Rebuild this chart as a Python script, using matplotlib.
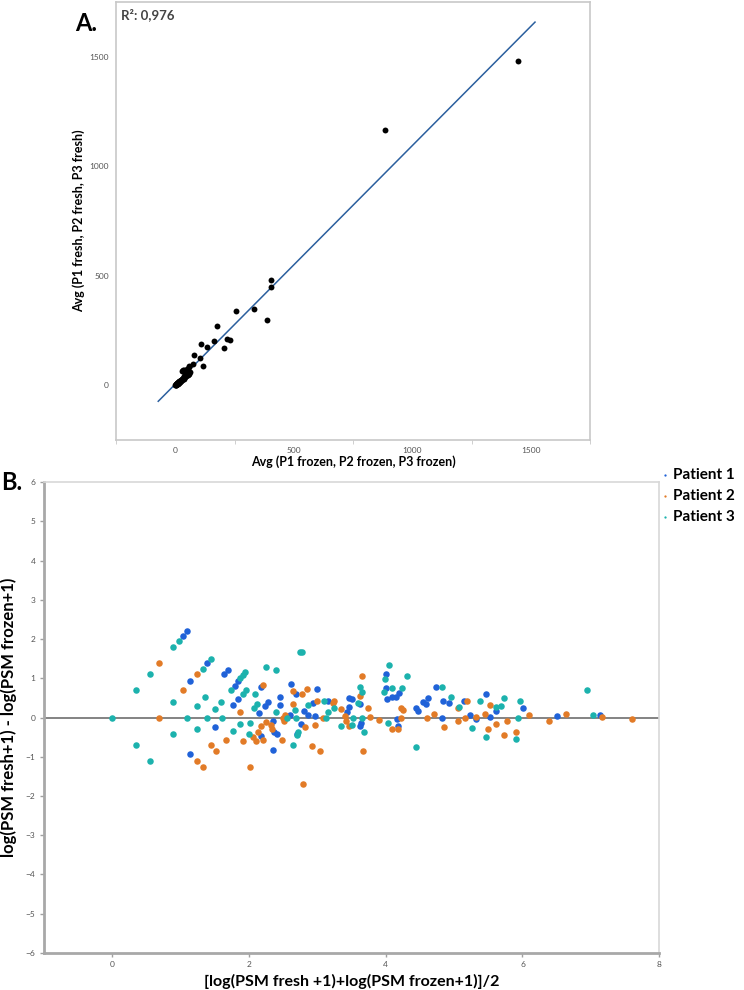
import numpy as np
import matplotlib
matplotlib.use("Agg")
import matplotlib.pyplot as plt
from matplotlib.ticker import MultipleLocator

plt.rcParams['font.family'] = ['Lato', 'DejaVu Sans']

# ---- panel A data : average PSM frozen vs fresh ----
frozen_avg = [1446, 884, 403, 405, 385, 334, 256, 176, 165, 218, 232, 205, 110, 132,
              79, 104, 116, 73, 56, 34, 27, 38, 48, 59,
              0, 1, 2, 3, 4, 5, 6, 7, 8, 10, 12, 14, 15, 18, 20, 22, 24, 25, 28,
              30, 32, 33, 35, 38, 40, 42, 44, 45, 48, 50, 52, 55, 58, 60]
fresh_avg = [1480, 1164, 482, 450, 296, 346, 340, 269, 204, 210, 207, 170, 190, 175,
             140, 122, 87, 97, 84, 71, 66, 71, 76, 87,
             0, 2, 3, 1, 6, 4, 8, 5, 10, 7, 15, 18, 12, 20, 16, 25, 20, 22, 30,
             26, 28, 35, 30, 40, 36, 45, 46, 40, 50, 45, 55, 48, 52, 62]
fit_slope = 1.089
fit_intercept = 5.0
fit_range = [-72, 1518]
r2_text = "R²: 0,976"

# ---- panel B data : MA-style plot per patient ----
p1 = [(1.04, 2.07), (1.10, 2.20), (1.14, 0.92), (1.14, -0.93), (1.38, 1.38), (1.50, -0.23),
      (1.64, 1.10), (1.70, 1.21), (1.77, 0.33), (1.79, 0.81), (1.84, 0.92), (1.84, 0.47),
      (2.14, 0.11), (2.17, -0.47), (2.17, 0.77), (2.24, 0.30), (2.28, 0.40), (2.35, -0.10),
      (2.37, -0.36), (2.41, -0.43), (2.35, -0.82), (2.45, 0.51), (2.46, 0.33), (2.61, 0.85),
      (2.69, 0.59), (2.86, 0.06), (2.60, 0.06), (2.80, 0.17), (2.76, -0.17), (2.70, -0.42),
      (3.00, 0.73), (2.94, 0.36), (3.15, 0.43), (2.96, 0.05), (3.44, 0.14), (3.47, 0.26),
      (3.47, 0.50), (3.50, 0.47), (3.63, -0.21), (3.63, 0.34), (3.64, -0.13), (4.00, 1.10),
      (4.00, 0.75), (4.02, 0.48), (4.09, 0.51), (4.15, 0.53), (4.20, 0.62), (4.18, -0.21),
      (4.17, -0.04), (4.44, 0.24), (4.47, 0.17), (4.55, 0.40), (4.59, 0.35), (4.62, 0.50),
      (4.73, 0.77), (4.82, 0.00), (4.84, 0.41), (4.92, 0.37), (5.15, 0.43), (5.24, 0.07),
      (5.32, -0.03), (5.47, 0.61), (5.52, 0.02), (5.61, 0.17), (6.01, 0.23), (6.50, 0.04),
      (7.13, 0.06)]
p2 = [(0.69, 1.38), (0.69, 0.00), (1.04, 0.69), (1.24, 1.10), (1.24, -1.10), (1.32, -1.27),
      (1.44, -0.70), (1.52, -0.86), (1.66, -0.57), (1.87, 0.15), (1.91, -0.59), (2.01, -1.26),
      (2.06, -0.50), (2.10, -0.61), (2.13, -0.37), (2.18, -0.22), (2.21, -0.58), (2.21, 0.84),
      (2.25, -0.12), (2.32, -0.20), (2.33, -0.29), (2.48, -0.58), (2.50, 0.00), (2.52, 0.07),
      (2.51, -0.08), (2.64, 0.68), (2.78, 0.60), (2.85, 0.73), (2.65, 0.35), (2.79, -1.70),
      (2.92, -0.72), (3.04, -0.86), (2.82, -0.23), (2.97, -0.20), (3.00, 0.43), (3.08, 0.00),
      (3.23, 0.36), (3.24, 0.42), (3.35, 0.21), (3.40, 0.04), (3.42, -0.08), (3.47, -0.22),
      (3.63, 0.54), (3.65, 1.07), (3.67, -0.86), (3.74, 0.25), (3.77, 0.02), (3.90, -0.06),
      (4.09, -0.29), (4.18, -0.29), (4.22, -0.02), (4.22, 0.24), (4.26, 0.18), (4.61, -0.02),
      (4.70, 0.09), (4.85, -0.23), (5.05, -0.09), (5.06, 0.24), (5.19, 0.41), (5.16, -0.01),
      (5.32, 0.02), (5.45, 0.08), (5.53, 0.33), (5.50, -0.29), (5.62, -0.16), (5.73, -0.45),
      (5.78, -0.10), (5.91, -0.36), (6.09, 0.06), (6.39, -0.09), (6.63, 0.08), (7.16, 0.01),
      (7.60, -0.05)]
p3 = [(0.00, 0.00), (0.35, 0.69), (0.35, -0.70), (0.55, 1.10), (0.55, -1.10), (0.89, 1.79),
      (0.97, 1.94), (0.89, 0.40), (0.89, -0.41), (1.10, 0.00), (1.24, 0.29), (1.24, -0.29),
      (1.35, 0.51), (1.32, 1.24), (1.44, 1.50), (1.38, 0.00), (1.50, 0.21), (1.59, 0.40),
      (1.61, 0.00), (1.73, 0.69), (1.87, 1.01), (1.91, 1.09), (1.94, 1.17), (1.91, 0.59),
      (1.96, 0.69), (1.77, -0.34), (1.87, -0.16), (2.00, -0.41), (2.01, -0.14), (2.09, 0.60),
      (2.08, 0.25), (2.12, 0.35), (2.25, 1.28), (2.39, 1.20), (2.39, 0.14), (2.55, 0.00),
      (2.67, 0.20), (2.69, 0.00), (2.64, -0.70), (2.75, 1.66), (2.78, 1.66), (2.70, -0.45),
      (2.72, -0.36), (2.86, 0.33), (3.09, 0.41), (3.24, 0.23), (3.15, 0.14), (3.13, -0.01),
      (3.35, -0.21), (3.59, 0.36), (3.63, 0.77), (3.65, 0.66), (3.52, 0.00), (3.51, -0.20),
      (3.65, 0.00), (3.68, -0.36), (3.98, 0.65), (3.99, 0.97), (4.05, 1.33), (4.09, 0.76),
      (4.24, 0.76), (4.31, 1.05), (4.03, -0.13), (4.44, -0.75), (4.83, 0.77), (4.96, 0.53),
      (5.07, 0.28), (5.26, -0.28), (5.38, 0.41), (5.46, -0.50), (5.61, 0.27), (5.68, 0.30),
      (5.73, 0.49), (5.91, -0.54), (5.93, 0.00), (5.96, 0.42), (6.95, 0.70), (7.03, 0.06)]
patients = ["Patient 1", "Patient 2", "Patient 3"]
colors = ["#2062d8", "#e27b27", "#1cb2ad"]

frame_col = "#c8c8c8"
tick_col = "#555555"

fig = plt.figure(figsize=(7.44, 9.9), dpi=100)

# ---------------- panel A ----------------
axA = fig.add_axes([0.156, 0.5556, 0.637, 0.4424])
xs = np.array(fit_range)
axA.plot(xs, fit_slope * xs + fit_intercept, color="#2b5f9e", lw=1.1, zorder=1)
axA.scatter(frozen_avg, fresh_avg, s=18, color="black", zorder=2, linewidths=0)
axA.set_xlim(-250, 1750)
axA.set_ylim(-250, 1750)
axA.xaxis.set_major_locator(MultipleLocator(500))
axA.yaxis.set_major_locator(MultipleLocator(500))
axA.xaxis.set_minor_locator(MultipleLocator(500, offset=250))
axA.tick_params(which="major", length=0, labelsize=6, labelcolor=tick_col, pad=5)
axA.tick_params(axis="x", which="minor", length=3, color=frame_col)
axA.tick_params(axis="y", which="minor", length=0)
for sp in axA.spines.values():
    sp.set_color(frame_col)
    sp.set_linewidth(1.2)
axA.set_xlabel("Avg (P1 frozen, P2 frozen, P3 frozen)", fontsize=9, fontweight="bold", labelpad=1)
axA.set_ylabel("Avg (P1 fresh, P2 fresh, P3 fresh)", fontsize=9, fontweight="bold", labelpad=3)
axA.text(0.01, 0.985, r2_text, transform=axA.transAxes, fontsize=9.5, fontweight="bold",
         color="#444444", va="top", ha="left")
fig.text(0.101, 0.988, "A.", fontsize=17, fontweight="bold", va="top", ha="left")

# ---------------- panel B ----------------
axB = fig.add_axes([0.059, 0.0374, 0.827, 0.4757])
axB.axhline(0, color="#7a7a7a", lw=1.3, zorder=1)
for name, pts, c in zip(patients, [p1, p2, p3], colors):
    arr = np.array(pts)
    axB.scatter(arr[:, 0], arr[:, 1], s=22, color=c, linewidths=0, zorder=2, label=name)
axB.set_xlim(-1, 8)
axB.set_ylim(-6, 6)
axB.xaxis.set_major_locator(MultipleLocator(2))
axB.yaxis.set_major_locator(MultipleLocator(1))
axB.tick_params(length=3, width=1, color="#a0a0a0", labelsize=6, labelcolor=tick_col, pad=3)
for side in ["top", "right"]:
    axB.spines[side].set_color("#d8d8d8")
    axB.spines[side].set_linewidth(1.2)
for side in ["left", "bottom"]:
    axB.spines[side].set_color("#a8a8a8")
    axB.spines[side].set_linewidth(2)
axB.set_xlabel("[log(PSM fresh +1)+log(PSM frozen+1)]/2", fontsize=11.5, fontweight="bold", labelpad=4)
axB.set_ylabel("log(PSM fresh+1) - log(PSM frozen+1)", fontsize=12, fontweight="bold", labelpad=6)
leg = axB.legend(loc="upper left", bbox_to_anchor=(1.004, 1.03), frameon=False,
                 markerscale=0.35, handletextpad=0.25, labelspacing=0.45, borderaxespad=0,
                 borderpad=0, handlelength=0.5, prop={"weight": "bold", "size": 11})
fig.text(0.002, 0.513, "B.", fontsize=17, fontweight="bold", va="center", ha="left")

fig.savefig("out.png", dpi=100)
